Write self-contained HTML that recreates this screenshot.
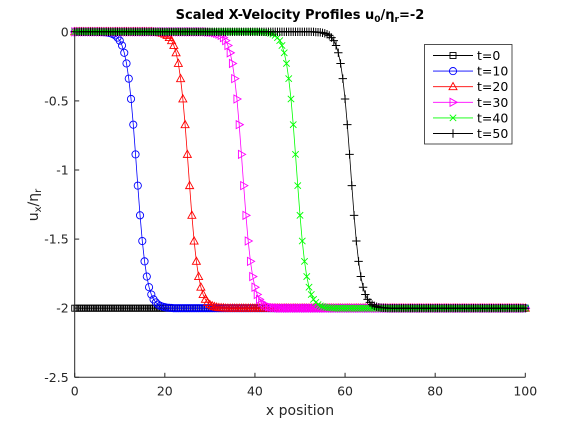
<!DOCTYPE html>
<html><head><meta charset="utf-8"><style>
html,body{margin:0;padding:0;background:#fff;}
svg{display:block;font-family:"DejaVu Sans","Liberation Sans",sans-serif;}
</style></head><body>
<svg id="chart" width="580" height="424" viewBox="0 0 580 424" xmlns="http://www.w3.org/2000/svg">
<rect x="0" y="0" width="580" height="424" fill="#fff"/>
<text x="300" y="19" text-anchor="middle" font-size="13" font-weight="bold" fill="#000">Scaled X-Velocity Profiles u<tspan font-size="9" dy="3">0</tspan><tspan dy="-3">/η</tspan><tspan font-size="9" dy="3">r</tspan><tspan dy="-3">=-2</tspan></text>
<text x="300" y="415" text-anchor="middle" font-size="14" fill="#262626">x position</text>
<text transform="translate(38,205) rotate(-90)" text-anchor="middle" font-size="14" fill="#262626">u<tspan font-size="10" dy="3">x</tspan><tspan dy="-3">/η</tspan><tspan font-size="10" dy="3">r</tspan></text>
<g id="plot"></g>
<g id="axes"></g>
<g id="legend"></g>
</svg>
<script>
const xValues = [0,0.5,1,1.5,2,2.5,3,3.5,4,4.5,5,5.5,6,6.5,7,7.5,8,8.5,9,9.5,
10,10.5,11,11.5,12,12.5,13,13.5,14,14.5,15,15.5,16,16.5,17,17.5,18,18.5,19,19.5,
20,20.5,21,21.5,22,22.5,23,23.5,24,24.5,25,25.5,26,26.5,27,27.5,28,28.5,29,29.5,
30,30.5,31,31.5,32,32.5,33,33.5,34,34.5,35,35.5,36,36.5,37,37.5,38,38.5,39,39.5,
40,40.5,41,41.5,42,42.5,43,43.5,44,44.5,45,45.5,46,46.5,47,47.5,48,48.5,49,49.5,
50,50.5,51,51.5,52,52.5,53,53.5,54,54.5,55,55.5,56,56.5,57,57.5,58,58.5,59,59.5,
60,60.5,61,61.5,62,62.5,63,63.5,64,64.5,65,65.5,66,66.5,67,67.5,68,68.5,69,69.5,
70,70.5,71,71.5,72,72.5,73,73.5,74,74.5,75,75.5,76,76.5,77,77.5,78,78.5,79,79.5,
80,80.5,81,81.5,82,82.5,83,83.5,84,84.5,85,85.5,86,86.5,87,87.5,88,88.5,89,89.5,
90,90.5,91,91.5,92,92.5,93,93.5,94,94.5,95,95.5,96,96.5,97,97.5,98,98.5,99,99.5,
100];
const seriesLabels = ["t=0","t=10","t=20","t=30","t=40","t=50"];
const xTicks = [0,20,40,60,80,100];
const yTicks = [0,-0.5,-1,-1.5,-2,-2.5];
const yTickLabels = ["0","-0.5","-1","-1.5","-2","-2.5"];
const t0 = [
-2,-2,-2,-2,-2,-2,-2,-2,-2,-2,
-2,-2,-2,-2,-2,-2,-2,-2,-2,-2,
-2,-2,-2,-2,-2,-2,-2,-2,-2,-2,
-2,-2,-2,-2,-2,-2,-2,-2,-2,-2,
-2,-2,-2,-2,-2,-2,-2,-2,-2,-2,
-2,-2,-2,-2,-2,-2,-2,-2,-2,-2,
-2,-2,-2,-2,-2,-2,-2,-2,-2,-2,
-2,-2,-2,-2,-2,-2,-2,-2,-2,-2,
-2,-2,-2,-2,-2,-2,-2,-2,-2,-2,
-2,-2,-2,-2,-2,-2,-2,-2,-2,-2,
-2,-2,-2,-2,-2,-2,-2,-2,-2,-2,
-2,-2,-2,-2,-2,-2,-2,-2,-2,-2,
-2,-2,-2,-2,-2,-2,-2,-2,-2,-2,
-2,-2,-2,-2,-2,-2,-2,-2,-2,-2,
-2,-2,-2,-2,-2,-2,-2,-2,-2,-2,
-2,-2,-2,-2,-2,-2,-2,-2,-2,-2,
-2,-2,-2,-2,-2,-2,-2,-2,-2,-2,
-2,-2,-2,-2,-2,-2,-2,-2,-2,-2,
-2,-2,-2,-2,-2,-2,-2,-2,-2,-2,
-2,-2,-2,-2,-2,-2,-2,-2,-2,-2,
-2];
const t10 = [
0,0,0,0,0,0,0,0,0,0,0,0,
-0.002,-0.003,-0.004,-0.007,-0.011,-0.017,-0.026,-0.042,-0.064,-0.099,-0.152,-0.229,-0.339,-0.486,-0.672,-0.887,
-1.113,-1.328,-1.514,-1.661,-1.771,-1.848,-1.901,-1.936,-1.958,-1.974,-1.983,-1.989,-1.993,-1.996,-1.997,-1.998,
-2,-2,-2,-2,-2,-2,-2,-2,-2,-2,
-2,-2,-2,-2,-2,-2,-2,-2,-2,-2,
-2,-2,-2,-2,-2,-2,-2,-2,-2,-2,
-2,-2,-2,-2,-2,-2,-2,-2,-2,-2,
-2,-2,-2,-2,-2,-2,-2,-2,-2,-2,
-2,-2,-2,-2,-2,-2,-2,-2,-2,-2,
-2,-2,-2,-2,-2,-2,-2,-2,-2,-2,
-2,-2,-2,-2,-2,-2,-2,-2,-2,-2,
-2,-2,-2,-2,-2,-2,-2,-2,-2,-2,
-2,-2,-2,-2,-2,-2,-2,-2,-2,-2,
-2,-2,-2,-2,-2,-2,-2,-2,-2,-2,
-2,-2,-2,-2,-2,-2,-2,-2,-2,-2,
-2,-2,-2,-2,-2,-2,-2,-2,-2,-2,
-2,-2,-2,-2,-2,-2,-2,-2,-2,-2,
-2,-2,-2,-2,-2,-2,-2,-2,-2,-2,
-2,-2,-2,-2,-2,-2,-2];
const t20 = [
0,0,0,0,0,0,0,0,0,0,
0,0,0,0,0,0,0,0,0,0,
0,0,0,0,0,0,0,0,0,0,
0,0,0,0,0,
-0.002,-0.003,-0.004,-0.007,-0.011,-0.017,-0.026,-0.042,-0.064,-0.099,-0.152,-0.229,-0.339,-0.486,-0.672,-0.887,
-1.113,-1.328,-1.514,-1.661,-1.771,-1.848,-1.901,-1.936,-1.958,-1.974,-1.983,-1.989,-1.993,-1.996,-1.997,-1.998,
-2,-2,-2,-2,-2,-2,-2,-2,-2,-2,
-2,-2,-2,-2,-2,-2,-2,-2,-2,-2,
-2,-2,-2,-2,-2,-2,-2,-2,-2,-2,
-2,-2,-2,-2,-2,-2,-2,-2,-2,-2,
-2,-2,-2,-2,-2,-2,-2,-2,-2,-2,
-2,-2,-2,-2,-2,-2,-2,-2,-2,-2,
-2,-2,-2,-2,-2,-2,-2,-2,-2,-2,
-2,-2,-2,-2,-2,-2,-2,-2,-2,-2,
-2,-2,-2,-2,-2,-2,-2,-2,-2,-2,
-2,-2,-2,-2,-2,-2,-2,-2,-2,-2,
-2,-2,-2,-2,-2,-2,-2,-2,-2,-2,
-2,-2,-2,-2,-2,-2,-2,-2,-2,-2,
-2,-2,-2,-2,-2,-2,-2,-2,-2,-2,
-2,-2,-2,-2];
const t30 = [
0,0,0,0,0,0,0,0,0,0,
0,0,0,0,0,0,0,0,0,0,
0,0,0,0,0,0,0,0,0,0,
0,0,0,0,0,0,0,0,0,0,
0,0,0,0,0,0,0,0,0,0,
0,0,0,0,0,0,0,0,0,
-0.002,-0.003,-0.004,-0.007,-0.011,-0.017,-0.026,-0.042,-0.064,-0.099,-0.152,-0.229,-0.339,-0.486,-0.672,-0.887,
-1.113,-1.328,-1.514,-1.661,-1.771,-1.848,-1.901,-1.936,-1.958,-1.974,-1.983,-1.989,-1.993,-1.996,-1.997,-1.998,
-2,-2,-2,-2,-2,-2,-2,-2,-2,-2,
-2,-2,-2,-2,-2,-2,-2,-2,-2,-2,
-2,-2,-2,-2,-2,-2,-2,-2,-2,-2,
-2,-2,-2,-2,-2,-2,-2,-2,-2,-2,
-2,-2,-2,-2,-2,-2,-2,-2,-2,-2,
-2,-2,-2,-2,-2,-2,-2,-2,-2,-2,
-2,-2,-2,-2,-2,-2,-2,-2,-2,-2,
-2,-2,-2,-2,-2,-2,-2,-2,-2,-2,
-2,-2,-2,-2,-2,-2,-2,-2,-2,-2,
-2,-2,-2,-2,-2,-2,-2,-2,-2,-2,
-2,-2,-2,-2,-2,-2,-2,-2,-2,-2];
const t40 = [
0,0,0,0,0,0,0,0,0,0,
0,0,0,0,0,0,0,0,0,0,
0,0,0,0,0,0,0,0,0,0,
0,0,0,0,0,0,0,0,0,0,
0,0,0,0,0,0,0,0,0,0,
0,0,0,0,0,0,0,0,0,0,
0,0,0,0,0,0,0,0,0,0,
0,0,0,0,0,0,0,0,0,0,
0,0,0,
-0.002,-0.003,-0.004,-0.007,-0.011,-0.017,-0.026,-0.042,-0.064,-0.099,-0.152,-0.229,-0.339,-0.486,-0.672,-0.887,
-1.113,-1.328,-1.514,-1.661,-1.771,-1.848,-1.901,-1.936,-1.958,-1.974,-1.983,-1.989,-1.993,-1.996,-1.997,-1.998,
-2,-2,-2,-2,-2,-2,-2,-2,-2,-2,
-2,-2,-2,-2,-2,-2,-2,-2,-2,-2,
-2,-2,-2,-2,-2,-2,-2,-2,-2,-2,
-2,-2,-2,-2,-2,-2,-2,-2,-2,-2,
-2,-2,-2,-2,-2,-2,-2,-2,-2,-2,
-2,-2,-2,-2,-2,-2,-2,-2,-2,-2,
-2,-2,-2,-2,-2,-2,-2,-2,-2,-2,
-2,-2,-2,-2,-2,-2,-2,-2,-2,-2,
-2,-2,-2,-2,-2,-2];
const t50 = [
0,0,0,0,0,0,0,0,0,0,
0,0,0,0,0,0,0,0,0,0,
0,0,0,0,0,0,0,0,0,0,
0,0,0,0,0,0,0,0,0,0,
0,0,0,0,0,0,0,0,0,0,
0,0,0,0,0,0,0,0,0,0,
0,0,0,0,0,0,0,0,0,0,
0,0,0,0,0,0,0,0,0,0,
0,0,0,0,0,0,0,0,0,0,
0,0,0,0,0,0,0,0,0,0,
0,0,0,0,0,0,0,
-0.002,-0.003,-0.004,-0.007,-0.011,-0.017,-0.026,-0.042,-0.064,-0.099,-0.152,-0.229,-0.339,-0.486,-0.672,-0.887,
-1.113,-1.328,-1.514,-1.661,-1.771,-1.848,-1.901,-1.936,-1.958,-1.974,-1.983,-1.989,-1.993,-1.996,-1.997,-1.998,
-2,-2,-2,-2,-2,-2,-2,-2,-2,-2,
-2,-2,-2,-2,-2,-2,-2,-2,-2,-2,
-2,-2,-2,-2,-2,-2,-2,-2,-2,-2,
-2,-2,-2,-2,-2,-2,-2,-2,-2,-2,
-2,-2,-2,-2,-2,-2,-2,-2,-2,-2,
-2,-2,-2,-2,-2,-2,-2,-2,-2,-2,
-2,-2];

const NS = "http://www.w3.org/2000/svg";
const X0 = 74.7, X1 = 525.3, Y0 = 31.8, Y1 = 377.3;
function xs(v){ return X0 + (v - 0) / 100 * (X1 - X0); }
function ys(v){ return Y0 + (0 - v) / 2.5 * (Y1 - Y0); }
function mk(tag, attrs, parent){
  const e = document.createElementNS(NS, tag);
  for (const k in attrs) e.setAttribute(k, attrs[k]);
  parent.appendChild(e);
  return e;
}
const styles = [
  {color:"#000000", marker:"square"},
  {color:"#0000ff", marker:"circle"},
  {color:"#ff0000", marker:"triangle"},
  {color:"#ff00ff", marker:"tri-right"},
  {color:"#00ff00", marker:"cross"},
  {color:"#000000", marker:"plus"}
];
function drawMarker(g, type, cx, cy, color){
  const s = 3;
  let el;
  if (type === "square") el = mk("rect", {x:cx-s, y:cy-s, width:2*s, height:2*s, fill:"none", stroke:color, "stroke-width":0.9}, g);
  else if (type === "circle") el = mk("circle", {cx:cx, cy:cy, r:3.6, fill:"none", stroke:color, "stroke-width":0.9}, g);
  else if (type === "triangle") el = mk("path", {d:`M${cx},${cy-4.2}L${cx+4},${cy+3}L${cx-4},${cy+3}Z`, fill:"none", stroke:color, "stroke-width":0.9}, g);
  else if (type === "tri-right") el = mk("path", {d:`M${cx+4.2},${cy}L${cx-3},${cy+4}L${cx-3},${cy-4}Z`, fill:"none", stroke:color, "stroke-width":0.9}, g);
  else if (type === "cross") el = mk("path", {d:`M${cx-3.2},${cy-3.2}L${cx+3.2},${cy+3.2}M${cx-3.2},${cy+3.2}L${cx+3.2},${cy-3.2}`, fill:"none", stroke:color, "stroke-width":0.9}, g);
  else el = mk("path", {d:`M${cx-4.2},${cy}L${cx+4.2},${cy}M${cx},${cy-4.2}L${cx},${cy+4.2}`, fill:"none", stroke:color, "stroke-width":1}, g);
  
  
}
const plot = document.getElementById("plot");
const allSeries = [t0, t10, t20, t30, t40, t50];
allSeries.forEach((vals, si) => {
  const st = styles[si];
  const g = mk("g", {}, plot);
  
  
  let d = "";
  vals.forEach((v, i) => { d += (i ? "L" : "M") + xs(xValues[i]).toFixed(2) + "," + ys(v).toFixed(2); });
  const line = mk("path", {d:d, fill:"none", stroke:st.color, "stroke-width":0.8}, g);
  
  
  vals.forEach((v, i) => drawMarker(g, st.marker, xs(xValues[i]), ys(v), st.color));
});

const axes = document.getElementById("axes");
const xa = mk("line", {x1:X0, y1:Y1, x2:X1, y2:Y1, stroke:"#262626", "stroke-width":1}, axes);


const ya = mk("line", {x1:X0, y1:Y0, x2:X0, y2:Y1, stroke:"#262626", "stroke-width":1}, axes);


xTicks.forEach(t => {
  const tk = mk("line", {x1:xs(t), y1:Y1, x2:xs(t), y2:Y1-4.5, stroke:"#262626", "stroke-width":1}, axes);
  
  
  const lb = mk("text", {x:xs(t), y:Y1+18, "text-anchor":"middle", "font-size":12.5, fill:"#262626"}, axes);
  lb.textContent = String(t);
  
  
});
yTicks.forEach((t, i) => {
  const tk = mk("line", {x1:X0, y1:ys(t), x2:X0+4.5, y2:ys(t), stroke:"#262626", "stroke-width":1}, axes);
  
  
  const lb = mk("text", {x:X0-6, y:ys(t)+4.5, "text-anchor":"end", "font-size":12.5, fill:"#262626"}, axes);
  lb.textContent = yTickLabels[i];
  
  
});

const lg = document.getElementById("legend");
const box = mk("rect", {x:424.5, y:44.5, width:87.5, height:99.5, fill:"#fff", stroke:"#262626", "stroke-width":0.8}, lg);


seriesLabels.forEach((lab, i) => {
  const y = 55.5 + i * 15.6;
  const st = styles[i];
  const g = mk("g", {}, lg);
  
  
  const ln = mk("line", {x1:433, y1:y, x2:473, y2:y, stroke:st.color, "stroke-width":0.9}, g);
  
  
  drawMarker(g, st.marker, 453, y, st.color);
  const tx = mk("text", {x:477, y:y+4.5, "font-size":12.5, fill:"#000"}, g);
  tx.textContent = lab;
  
  
});
</script>
</body></html>
